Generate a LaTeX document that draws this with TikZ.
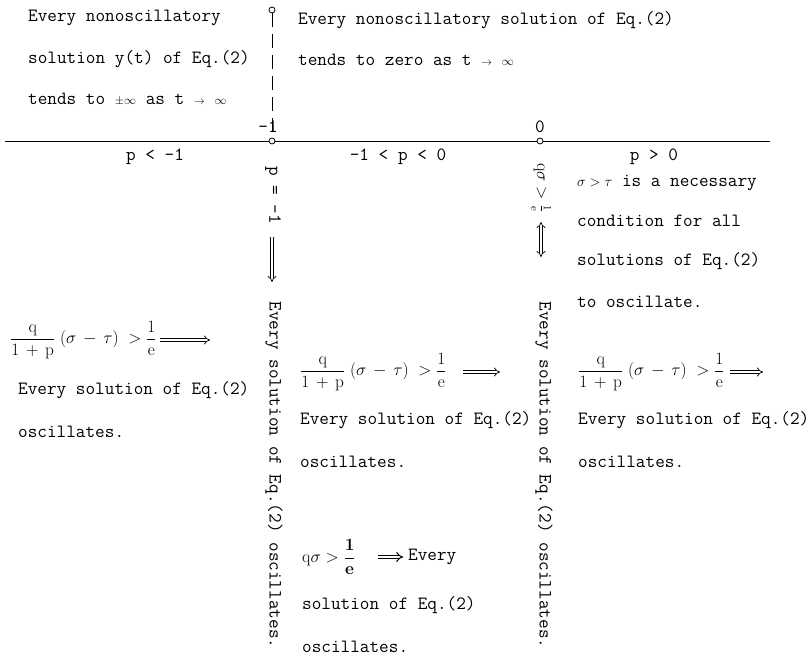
\documentclass[tikz,border=0pt]{standalone}
\usetikzlibrary{arrows.meta}
\newcommand{\ttf}{\fontsize{18.7}{20}\selectfont\ttfamily}
\newcommand{\frml}{$\displaystyle\frac{\mathrm{q}}{1\,+\,\mathrm{p}}\;(\sigma\,-\,\tau)\;>\frac{1}{\mathrm{e}}$}
\begin{document}
\begin{tikzpicture}[x=1pt,y=-1pt,
  tt/.style={font=\ttf, inner sep=0pt, anchor=west},
  mth/.style={font=\fontsize{16}{18}\selectfont, inner sep=0pt, anchor=west},
  vtt/.style={font=\ttf, inner sep=0pt, rotate=-90},
  dot/.style={circle, draw, line width=0.8pt, inner sep=0pt, minimum size=6pt, fill=white},
  axisline/.style={line width=0.9pt},
  impl/.style={double, double distance=2.4pt, line width=0.7pt, -{Implies}},
  iff/.style={double, double distance=2.4pt, line width=0.7pt, {Implies}-{Implies}},
]
\useasboundingbox (0,0) rectangle (811,660);

% axis and points
\node[dot] (top) at (272,10) {};
\node[dot] (m1) at (272,141) {};
\node[dot] (z0) at (540,141) {};
\coordinate (axL) at (5,141);
\coordinate (axR) at (770,141);
\draw[axisline] (axL) -- (m1);
\draw[axisline] (m1) -- (z0);
\draw[axisline] (z0) -- (axR);
\draw[axisline, dash pattern=on 14pt off 7pt] (top) -- (m1);

\node[tt, anchor=center] (lm1) at (268,127) {-1};
\node[tt, anchor=center] (l0) at (540,127) {0};
\node[tt, anchor=center] (r1) at (155,157) {p < -1};
\node[tt, anchor=center] (r2) at (398,157) {-1 < p < 0};
\node[tt, anchor=center] (r3) at (654,157) {p > 0};

% top texts
\node[tt] (a1) at (28,18) {Every nonoscillatory};
\node[tt] (a2) at (28,59) {solution y(t) of Eq.(2)};
\node[tt] (a3) at (28,99) {tends to {\fontsize{12}{14}\selectfont$\pm\infty$} as t {\fontsize{11}{13}\selectfont$\to$} {\fontsize{12}{14}\selectfont$\infty$}};
\node[tt] (b1) at (298,20) {Every nonoscillatory solution of Eq.(2)};
\node[tt] (b2) at (298,60) {tends to zero as t {\fontsize{11}{13}\selectfont$\to$} {\fontsize{12}{14}\selectfont$\infty$}};

% right upper block
\node[tt] (c1) at (577,183) {{\fontsize{15}{17}\selectfont$\sigma>\tau$} is a necessary};
\node[tt] (c2) at (577,221) {condition for all};
\node[tt] (c3) at (577,261) {solutions of Eq.(2)};
\node[tt] (c4) at (577,302) {to oscillate.};

% vertical at p=-1
\node[vtt] (v1) at (273,195) {p = -1};
\coordinate (v1a) at (272,237);
\coordinate (v1b) at (272,282);
\draw[impl] (v1a) -- (v1b);
\node[vtt] (v2) at (274,475) {Every solution of Eq.(2) oscillates.};

% vertical at p=0
\node[vtt, font=\fontsize{16}{18}\selectfont] (w1) at (541,188) {$\mathrm{q}\sigma > \frac{1}{\mathrm{e}}$};
\coordinate (w1a) at (541,222);
\coordinate (w1b) at (541,257);
\draw[iff] (w1a) -- (w1b);
\node[vtt] (w2) at (544,475) {Every solution of Eq.(2) oscillates.};

% left block
\node[mth] (f1) at (10,340) {\frml};
\coordinate (f1a) at (160,340);
\coordinate (f1b) at (210,340);
\draw[impl] (f1a) -- (f1b);
\node[tt] (g1) at (18,390) {Every solution of Eq.(2)};
\node[tt] (h1) at (18,432) {oscillates.};

% middle block
\node[mth] (f2) at (300,372) {\frml};
\coordinate (f2a) at (463,372);
\coordinate (f2b) at (500,372);
\draw[impl] (f2a) -- (f2b);
\node[tt] (g2) at (300,420) {Every solution of Eq.(2)};
\node[tt] (h2) at (300,462) {oscillates.};

% right block
\node[mth] (f3) at (578,372) {\frml};
\coordinate (f3a) at (730,372);
\coordinate (f3b) at (763,372);
\draw[impl] (f3a) -- (f3b);
\node[tt] (g3) at (578,420) {Every solution of Eq.(2)};
\node[tt] (h3) at (578,462) {oscillates.};

% bottom middle
\node[mth, font=\fontsize{18}{20}\selectfont] (k1) at (302,557) {$\mathrm{q}\sigma > \displaystyle\frac{\mathbf{1}}{\mathbf{e}}$};
\coordinate (k1a) at (378,557);
\coordinate (k1b) at (403,557);
\draw[impl, line width=1pt] (k1a) -- (k1b);
\node[tt] (k2) at (408,557) {Every};
\node[tt] (k3) at (302,605) {solution of Eq.(2)};
\node[tt] (k4) at (302,647) {oscillates.};
\end{tikzpicture}
\end{document}
